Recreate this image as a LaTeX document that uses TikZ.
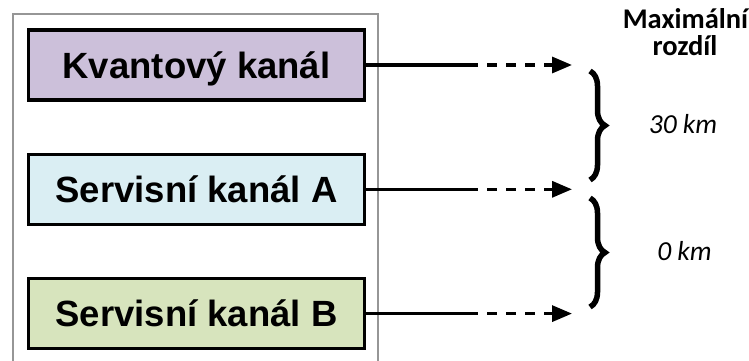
\documentclass[tikz,border=0pt]{standalone}
\usepackage{fontspec}
\setmainfont{Liberation Sans}
\newfontfamily\calibrifont{Carlito}
\usetikzlibrary{arrows.meta, positioning, decorations.pathreplacing}

\definecolor{kanalviolet}{RGB}{204,192,218}
\definecolor{kanalblue}{RGB}{218,238,243}
\definecolor{kanalgreen}{RGB}{215,228,189}
\definecolor{framegray}{RGB}{150,150,150}

\tikzset{
  kanal/.style={draw=black, line width=3.3pt, minimum width=335.7pt, minimum height=70pt,
    inner sep=0pt, text height=26pt, text depth=0pt,
    font=\fontsize{36.5}{40}\selectfont\bfseries},
  linka/.style={line width=3.3pt},
  carkovana/.style={line width=3.3pt, dash pattern=on 10pt off 9pt, dash phase=10pt,
    -{Triangle[length=20pt,width=16pt]}},
  zavorka/.style={line width=5.5pt, decorate, decoration={brace, amplitude=15pt}},
  popis/.style={anchor=base, font=\calibrifont\fontsize{27.5}{28}\selectfont\itshape},
  nadpis/.style={anchor=base, font=\calibrifont\fontsize{28.5}{28}\selectfont\bfseries},
}

\begin{document}
\begin{tikzpicture}[x=1pt,y=-1pt]
\useasboundingbox (0,0) rectangle (749,361);
\draw[framegray, line width=2pt] (13,14) rectangle (378,380);

%
\node[kanal, fill=kanalviolet] (kvant) at (196.5,65) {Kvantový kanál};
\node[kanal, fill=kanalblue, below=51pt of kvant] (servA) {Servisní kanál A};
\node[kanal, fill=kanalgreen, below=51pt of servA] (servB) {Servisní kanál B};

%
\foreach \k in {kvant,servA,servB} {
  \coordinate[right=112pt of \k.east] (\k-mid);
  \coordinate[right=94pt of \k-mid] (\k-end);
  \draw[linka] (\k) -- (\k-mid);
  \draw[carkovana] (\k-mid) -- (\k-end);
}

%
\coordinate (zav1top) at (590,71);
\coordinate (zav1bot) at (590,180);
\coordinate (zav2top) at (590,198);
\coordinate (zav2bot) at (590,307);
\draw[zavorka] (zav1top) -- (zav1bot);
\draw[zavorka] (zav2top) -- (zav2bot);

%
\node[nadpis] (maxim) at (685.5,29) {Maximální};
\node[nadpis] (rozdil) at (685,56) {rozdíl};
\node[popis] (rozdil30) at (683,133) {30 km};
\node[popis] (rozdil0) at (684.5,260) {0 km};
\end{tikzpicture}
\end{document}
